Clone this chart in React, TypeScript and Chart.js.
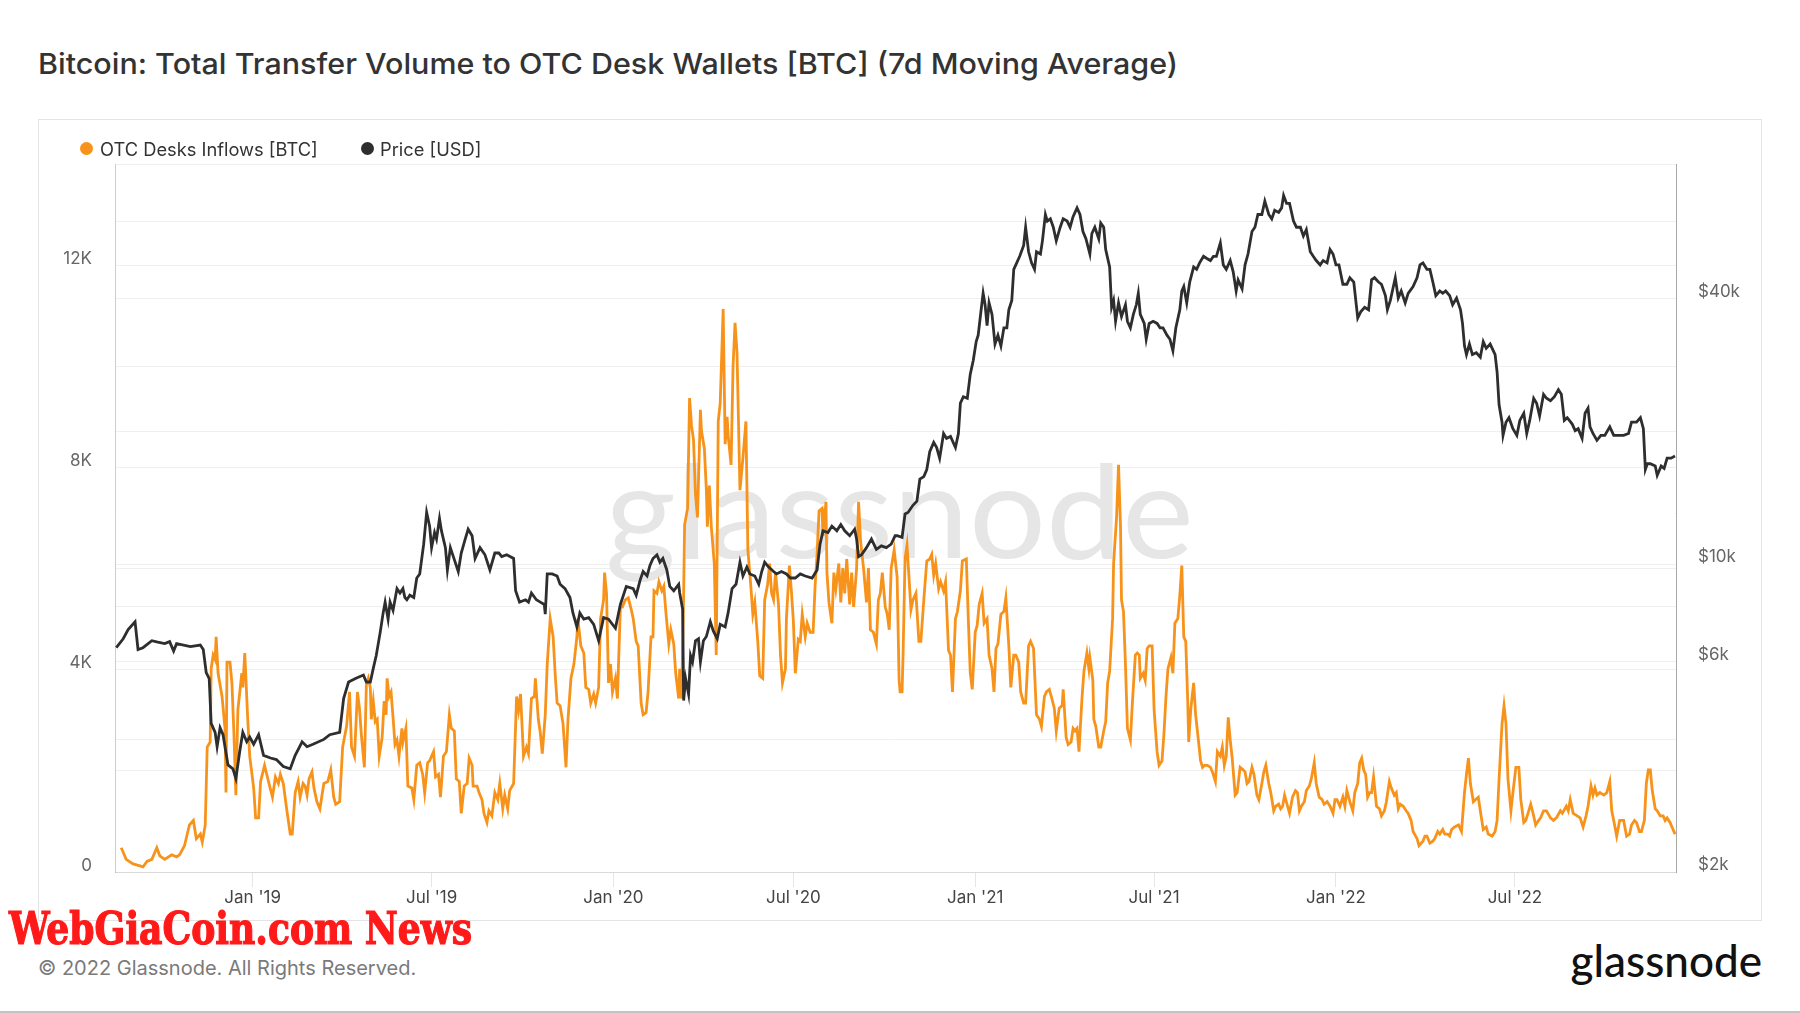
import React, { useEffect, useLayoutEffect, useRef } from 'react';
import { Chart, registerables } from 'chart.js';

Chart.register(...registerables);

const TITLE = 'Bitcoin: Total Transfer Volume to OTC Desk Wallets [BTC] (7d Moving Average)';
const SERIES_NAMES = ['OTC Desks Inflows [BTC]', 'Price [USD]'];
const COPYRIGHT = '\u00a9 2022 Glassnode. All Rights Reserved.';
const BRAND = 'glassnode';
const STAMP = 'WebGiaCoin.com News';

// x values are days since 2019-01-01
const xRange = [-139.3, 1440];
const xTickDays = [0, 181, 365, 547, 731, 912, 1096, 1277];
const xTickLabels = ["Jan '19", "Jul '19", "Jan '20", "Jul '20", "Jan '21", "Jul '21", "Jan '22", "Jul '22"];

const inflowRange = [0, 14000];
const inflowTicks = [0, 2000, 4000, 6000, 8000, 10000, 12000, 14000];
const inflowTickLabels = ['0', '', '4K', '', '8K', '', '12K', ''];

const priceRange = [2000, 81000];
const priceTicks = [2000, 4000, 6000, 8000, 10000, 20000, 40000, 60000];
const priceTickLabels = ['$2k', '', '$6k', '', '$10k', '', '$40k', ''];

// [day, BTC]
const otcInflows: number[][] = [
  [-133,480],[-131,390],[-128,250],[-121,160],[-114,120],[-111,100],[-107,210],[-102,250],[-97,480],[-94,320],[-89,250],[-82,340],[-77,300],[-74,340],[-69,520],[-64,930],[-60,1020],[-57,660],[-53,750],[-51,590],[-48,930],[-46,2470],[-43,2570],[-42,4020],[-40,4290],[-38,4200],[-37,4650],[-35,3930],[-31,3470],[-28,2840],[-27,1570],[-26,4150],[-23,4150],[-21,3740],[-19,2750],[-17,1520],[-15,3200],[-11,3930],[-10,3650],[-8,4330],[-5,3020],[-3,2290],[1,1660],[3,1070],[6,1070],[8,1790],[12,2110],[16,1790],[20,1480],[23,1880],[26,1750],[28,1930],[31,1750],[34,1300],[38,750],[40,750],[43,1570],[46,1790],[48,1480],[51,1750],[53,1700],[55,1520],[57,1840],[60,1980],[62,1660],[65,1390],[68,1250],[72,1750],[76,1790],[79,2020],[82,1480],[84,1340],[88,1390],[91,2470],[95,2880],[98,3560],[100,2470],[103,2290],[106,3560],[108,3240],[110,2700],[113,2070],[115,3700],[117,3830],
  [119,3650],[120,3020],[122,3380],[124,2970],[126,3020],[128,2290],[131,2660],[133,3380],[135,3110],[136,3830],[138,3470],[140,3560],[142,3060],[144,2520],[146,2610],[148,2290],[151,2840],[152,2570],[155,2840],[157,1700],[161,1660],[163,1430],[166,2110],[169,2160],[172,1930],[174,1570],[177,2160],[179,2200],[183,2380],[185,1880],[188,1930],[190,1480],[193,2290],[196,2380],[199,3110],[201,2840],[204,2790],[206,1840],[209,1790],[211,1160],[214,1700],[217,1750],[219,2250],[222,2110],[223,1700],[227,1700],[229,1570],[232,1430],[234,1160],[237,980],[239,1210],[242,1110],[245,1570],[248,1430],[250,1750],[253,1250],[255,1520],[258,1250],[260,1610],[264,1750],[267,3470],[269,3200],[271,3520],[274,2290],[277,2470],[279,2340],[282,3430],[285,3470],[286,3830],[289,3020],[291,2750],[293,2340],[296,3110],[298,4110],[301,5010],[304,4650],[306,3930],[308,3340],[311,3290],[314,2930],[317,2070],[319,3020],[322,3830],[325,4110],[328,4650],[329,5010],[332,4470],[335,4330],[337,3650],[340,3610],[342,3340],[345,3520],[347,3340],[350,3650],[352,5010],[355,5380],[356,5920],[358,5510],[360,3740],[362,4110],[364,3560],[367,3830],[369,3430],[372,5240],[374,5240],[377,5380],[380,5420],[383,5190],
  [385,5010],[388,4560],[390,4470],[393,3340],[395,3110],[398,3150],[400,3560],[403,4650],[405,4650],[406,5560],[409,5510],[411,5740],[414,5560],[416,5650],[418,5150],[421,4510],[423,4790],[426,4510],[428,3930],[431,3430],[432,4020],[434,3430],[436,5470],[437,6870],[440,7190],[442,9370],[444,8820],[446,8550],[448,7460],[450,7010],[453,9140],[454,8730],[457,8370],[459,7550],[460,6830],[462,7640],[464,6830],[467,6100],[469,4290],[471,8910],[473,9270],[476,11130],[478,8460],[480,9000],[481,8640],[484,8050],[486,10000],[488,10860],[490,10270],[493,7550],[496,8190],[499,8910],[501,6370],[504,5650],[506,5100],[508,5330],[511,4560],[513,3880],[516,3830],[518,5380],[521,5690],[523,6100],[525,5510],[527,5380],[529,5920],[532,5290],[534,4290],[536,3740],[539,4020],[540,5010],[543,6060],[545,5560],[547,4970],[549,3930],[552,4600],[554,4560],[556,5100],[559,4650],[561,4920],[564,4740],[567,4740],[569,5650],[571,6280],[573,7140],[576,7190],[577,6640],[580,7320],[581,5920],[583,5330],[586,4920],[588,5920],[590,5600],[593,6100],[595,5330],[597,6010],[599,5510],[601,6190],[604,5290],[606,5920],[608,5240],[611,6010],[613,7320],[615,6550],[618,6010],[621,5330],[623,6010],[625,4790],[628,4740],[631,4510],[633,5380],[635,5510],[637,5920],[640,5240],[642,5100],[644,4790],[646,6010],[649,6370],[652,5830],[654,3790],
  [655,3560],[657,3560],[658,4290],[660,6190],[662,6460],[664,5830],[666,5190],[668,5380],[671,5510],[674,4560],[676,4560],[679,5380],[682,6150],[685,6190],[687,6280],[689,5870],[691,6100],[694,5600],[696,5740],[699,5560],[701,5740],[704,4380],[706,4290],[708,3560],[711,5010],[713,5150],[716,5560],[718,6150],[722,6190],[724,5010],[726,3930],[728,3610],[731,4740],[733,4880],[735,5290],[738,5510],[740,4920],[743,5010],[745,4290],[748,4020],[750,3560],[752,4420],[754,4510],[757,5100],[760,5150],[762,5420],[765,4470],[767,3650],[770,4290],[772,4290],[775,4150],[777,3560],[780,3340],[782,3340],[785,4470],[787,4560],[790,4420],[793,3110],[796,3020],[798,2880],[801,3470],[803,3560],[806,3610],[808,3470],[811,3240],[813,2790],[816,3240],[819,3290],[820,3610],[823,2660],[825,2520],[828,2570],[830,2840],[832,2790],[834,2840],[836,2380],[839,3430],[841,3970],[844,4330],[846,4020],[847,4240],[850,3790],[851,3020],[853,2880],[856,2470],[858,2470],[861,2790],[863,2970],[865,3740],[867,3970],[870,5010],[871,6100],[874,7010],[876,8050],[878,6830],[879,5380],[881,5150],[883,4110],[885,2840],[888,2610],[890,3340],[893,4290],[895,4330],[897,4290],[898,3830],[901,3930],[903,3790],[905,4420],[907,4470],[910,4470],[912,3200],[915,2380],[917,2110],
  [920,2200],[922,2750],[924,3470],[926,4020],[929,4240],[931,3930],[933,4920],[936,5010],[938,5470],[940,6060],[942,4650],[944,4560],[946,3380],[947,2570],[949,3200],[952,3740],[954,3110],[957,2570],[959,2200],[961,2070],[963,2110],[966,2110],[969,2070],[971,1980],[974,1790],[976,2380],[979,2290],[981,2470],[983,2110],[985,2290],[987,3060],[989,2610],[991,2250],[994,1520],[996,1570],[999,2070],[1002,2020],[1004,1980],[1006,1750],[1008,1790],[1011,2070],[1013,1930],[1016,1520],[1018,1430],[1021,1750],[1023,1980],[1025,2110],[1028,1750],[1030,1570],[1033,1210],[1035,1300],[1038,1340],[1040,1250],[1042,1300],[1044,1520],[1047,1300],[1049,1160],[1052,1480],[1055,1610],[1057,1570],[1059,1210],[1061,1300],[1064,1390],[1066,1610],[1069,1700],[1071,1840],[1074,2160],[1076,1750],[1079,1480],[1082,1430],[1084,1340],[1087,1390],[1090,1300],[1093,1160],[1095,1430],[1097,1430],[1100,1300],[1103,1480],[1105,1300],[1107,1610],[1110,1390],[1113,1210],[1115,1570],[1118,1750],[1120,2160],[1122,2250],[1124,2020],[1126,1930],[1128,1480],[1130,1570],[1132,1570],[1134,1880],[1137,1300],[1140,1250],[1142,1110],[1145,1210],[1147,1390],[1150,1790],[1152,1660],[1155,1520],[1157,1570],[1159,1250],[1161,1340],[1164,1300],[1167,1210],[1169,1160],[1172,1020],[1174,800],[1178,660],[1180,520],
  [1184,610],[1186,710],[1188,710],[1191,570],[1194,610],[1196,660],[1199,800],[1201,750],[1204,840],[1206,750],[1209,750],[1211,710],[1213,840],[1216,890],[1220,930],[1223,800],[1226,1570],[1228,1930],[1230,2250],[1232,1750],[1235,1390],[1237,1430],[1240,1480],[1242,1210],[1245,840],[1248,890],[1250,750],[1254,710],[1257,800],[1259,1020],[1261,1840],[1264,2930],[1266,3290],[1268,2930],[1270,1840],[1273,1210],[1275,1570],[1278,2070],[1281,2070],[1283,1430],[1286,980],[1288,1020],[1291,1210],[1293,1340],[1296,1110],[1298,930],[1301,1020],[1303,1070],[1306,1210],[1309,1210],[1313,1070],[1316,1020],[1319,1070],[1323,1210],[1325,1160],[1329,1300],[1331,1210],[1333,1430],[1336,1160],[1340,1110],[1343,1070],[1346,890],[1349,1110],[1351,1300],[1354,1700],[1356,1520],[1358,1660],[1360,1520],[1363,1570],[1367,1520],[1370,1570],[1373,1790],[1375,1210],[1377,1020],[1380,710],[1383,1020],[1385,1020],[1387,1020],[1390,710],[1393,750],[1395,930],[1398,1020],[1400,980],[1403,800],[1405,800],[1408,1020],[1410,1750],[1412,2020],[1414,2020],[1416,1610],[1419,1250],[1421,1210],[1424,1110],[1427,1110],[1429,1020],[1431,1070],[1434,980],[1437,840],[1439,750]
];

// [day, USD]
const btcPrice: number[][] = [
  [-138,6460],[-131,6770],[-126,7100],[-119,7400],[-116,6400],[-111,6460],[-102,6700],[-96,6650],[-89,6600],[-84,6670],[-80,6350],[-77,6600],[-63,6500],[-53,6550],[-50,6400],[-47,5670],[-44,5500],[-42,4350],[-38,4150],[-36,3850],[-33,4250],[-30,4100],[-25,3500],[-20,3430],[-17,3260],[-13,3770],[-10,4150],[-6,3950],[-3,4050],[1,3900],[6,4100],[11,3680],[18,3630],[24,3600],[31,3470],[38,3430],[43,3680],[50,3950],[55,3850],[61,3900],[72,4000],[78,4100],[88,4150],[92,4950],[97,5400],[104,5500],[112,5600],[115,5400],
  [119,5400],[122,5800],[125,6200],[129,7000],[132,7750],[134,8200],[137,7500],[139,8200],[142,7850],[146,8800],[149,8600],[152,8800],[154,8400],[156,8300],[159,8500],[163,8400],[166,9300],[169,9500],[173,11100],[176,13100],[179,12200],[181,10900],[184,11800],[186,11400],[189,12700],[191,11900],[195,10900],[197,9700],[200,10900],[203,10400],[208,9620],[211,10600],[215,11400],[218,12000],[222,11600],[225,10300],[230,10900],[235,10500],[240,9700],[245,10600],[249,10600],[252,10400],[257,10500],[264,10300],[266,8700],[270,8200],[276,8300],[279,8200],[282,8600],[287,8300],[291,8200],[295,8100],[296,7700],[298,9500],[303,9500],[308,9400],[311,9000],[316,8800],[321,8400],[324,7750],[328,7200],[331,7750],[335,7500],[340,7560],[345,7300],[350,6700],[355,7560],[360,7500],[367,7150],[372,8100],[378,8900],[385,8800],
  [388,8500],[392,9200],[395,9620],[399,9400],[402,9950],[405,10300],[409,10500],[412,10100],[415,10300],[419,9700],[422,8900],[426,8700],[431,9000],[432,8600],[435,7900],[436,4900],[438,5500],[441,5070],[443,6200],[445,6000],[448,6700],[451,6770],[453,6000],[456,6700],[459,6850],[463,7400],[466,7050],[470,6770],[473,7300],[478,7200],[481,7750],[485,8800],[489,9000],[493,10100],[496,9400],[500,9850],[503,9500],[508,9400],[512,9000],[515,9620],[518,10100],[522,9850],[527,9620],[530,9500],[535,9620],[540,9500],[544,9300],[549,9300],[554,9500],[559,9400],[566,9300],[571,9700],[574,11100],[577,11900],[582,11800],[586,12200],[591,11900],[595,12300],[599,11900],[604,11600],[609,12000],[611,11400],[613,10400],[616,10500],[621,10900],[626,11400],[631,10800],[636,11000],[641,10900],[646,11100],[650,11600],
  [652,11600],[657,11500],[660,13000],[663,13100],[668,13600],[672,13900],[675,15600],[679,15800],[682,16400],[685,18000],[689,18900],[692,18400],[695,17400],[699,19800],[702,19300],[706,19500],[711,18400],[714,19800],[716,23200],[719,24000],[723,23800],[726,27000],[729,29000],[732,32000],[734,33100],[737,37800],[739,41200],[741,38800],[743,34800],[745,39200],[748,36900],[751,31600],[754,33100],[757,31300],[760,34400],[763,34400],[765,37800],[768,39700],[770,46700],[773,48300],[776,50000],[780,52900],[782,58200],[785,51200],[788,48300],[791,46700],[793,51200],[797,50600],[799,54200],[802,62200],[804,60100],[807,60800],[810,58200],[813,54200],[817,58200],[820,60800],[824,60100],[827,58200],[830,61500],[834,64400],[837,62200],[840,56900],[843,54800],[847,50600],[849,56300],[852,58200],[856,54800],[858,59500],[861,58200],[863,51800],[867,47300],[869,38300],[871,39700],[873,35600],[876,39200],[879,36500],[883,38800],[885,35600],[888,34400],[891,36900],[894,38800],[896,41200],[898,36900],[902,35200],[904,32400],[907,35200],[911,35600],[915,35200],[918,34400],
  [921,34400],[925,33100],[928,32400],[931,30500],[934,34400],[938,37800],[940,41700],[942,42700],[945,39200],[948,43700],[952,47300],[955,46700],[958,48300],[962,50000],[965,49500],[969,48900],[972,50000],[975,50000],[979,53600],[982,47800],[985,46700],[989,48900],[992,46100],[995,41700],[997,44200],[1001,42200],[1004,47800],[1007,50600],[1011,56900],[1014,58200],[1017,62200],[1021,62200],[1024,66700],[1028,62200],[1031,60800],[1034,63600],[1038,62900],[1041,64400],[1043,68700],[1046,65900],[1049,65900],[1053,60100],[1056,58200],[1060,58200],[1063,55600],[1066,57500],[1070,51200],[1073,50000],[1076,48900],[1080,47800],[1083,48900],[1087,48300],[1090,51800],[1093,50600],[1096,47800],[1099,47800],[1103,43200],[1107,43200],[1110,44700],[1114,43700],[1118,36200],[1121,37400],[1125,38300],[1129,37800],[1132,44200],[1135,44700],[1139,43700],[1142,43200],[1146,40700],[1148,37800],[1151,39700],[1156,44700],[1159,40200],[1162,41700],[1166,39200],[1169,41200],[1174,42700],[1178,44700],[1181,47800],
  [1184,48300],[1188,46700],[1191,46700],[1194,43700],[1197,40700],[1201,41700],[1204,41200],[1207,41700],[1211,40700],[1214,38800],[1218,40200],[1222,37800],[1224,35200],[1226,31300],[1228,29900],[1231,31600],[1234,29900],[1238,30200],[1242,29500],[1245,32000],[1248,30900],[1252,31600],[1257,29900],[1259,27300],[1261,23000],[1264,21000],[1265,19600],[1268,21000],[1271,21500],[1275,20300],[1279,19600],[1282,21200],[1286,22000],[1289,19800],[1292,21200],[1296,23800],[1299,23200],[1302,21700],[1306,24300],[1309,23800],[1313,23500],[1317,24000],[1321,24900],[1324,24300],[1327,21200],[1330,21500],[1335,20800],[1338,20100],[1341,20300],[1345,19300],[1348,22000],[1351,22600],[1353,20500],[1356,19800],[1360,19100],[1364,19600],[1368,19600],[1373,20500],[1377,19600],[1382,19600],[1387,19600],[1392,19800],[1395,21000],[1400,21000],[1404,21500],[1407,20300],[1409,16400],[1411,16900],[1414,16900],[1419,16700],[1421,15900],[1425,16700],[1428,16500],[1431,17400],[1435,17400],[1439,17600]
];

const ORANGE = '#f7931a';
const DARK = '#2e2e2e';
const FONT = 'Inter, "Noto Sans", sans-serif';

const watermarkPlugin = {
  id: 'glassnodeWatermark',
  beforeDatasetsDraw(chart: any) {
    const { ctx, chartArea: a } = chart;
    ctx.save();
    ctx.font = '400 130px Lato, "Noto Sans", sans-serif';
    ctx.fillStyle = '#e6e6e6';
    ctx.textAlign = 'center';
    ctx.textBaseline = 'alphabetic';
    const w = ctx.measureText(BRAND).width;
    const targetW = (a.right - a.left) * 0.377;
    ctx.translate((a.left + a.right) / 2 + 4, a.top + (a.bottom - a.top) * 0.556);
    ctx.scale(targetW / w, 1);
    ctx.fillText(BRAND, 0, 0);
    ctx.restore();
  },
};

export default function App() {
  const canvasRef = useRef<HTMLCanvasElement>(null);
  const stampRef = useRef<HTMLSpanElement>(null);
  const titleRef = useRef<HTMLDivElement>(null);

  useLayoutEffect(() => {
    const fit = (el: HTMLElement | null, target: number) => {
      if (!el) return;
      const w = el.offsetWidth;
      if (w > 0) el.style.transform = `scaleX(${target / w})`;
    };
    fit(stampRef.current, 463);
    fit(titleRef.current, 1140);
  }, []);

  useEffect(() => {
    const canvas = canvasRef.current;
    if (!canvas) return;
    const chart = new Chart(canvas, {
      type: 'line',
      data: {
        datasets: [
          {
            label: SERIES_NAMES[1],
            data: btcPrice.map(([x, y]) => ({ x, y })),
            yAxisID: 'yPrice',
            borderColor: DARK,
            backgroundColor: DARK,
            borderWidth: 2.8,
            pointRadius: 0,
            tension: 0,
            order: 0,
          },
          {
            label: SERIES_NAMES[0],
            data: otcInflows.map(([x, y]) => ({ x, y })),
            yAxisID: 'yOtc',
            borderColor: ORANGE,
            backgroundColor: ORANGE,
            borderWidth: 2.8,
            pointRadius: 0,
            tension: 0,
            order: 1,
          },
        ],
      },
      options: {
        responsive: false,
        animation: false,
        events: [],
        layout: { padding: { top: 45, left: 0, right: 0, bottom: 0 } },
        plugins: { legend: { display: false }, tooltip: { enabled: false } },
        scales: {
          x: {
            type: 'linear',
            min: xRange[0],
            max: xRange[1],
            afterBuildTicks: (s: any) => {
              s.ticks = xTickDays.map((v) => ({ value: v }));
            },
            afterFit: (s: any) => {
              s.height = 49;
            },
            ticks: {
              callback: (_v: any, i: number) => xTickLabels[i] ?? '',
              font: { family: FONT, size: 17 },
              color: '#444',
              padding: 1,
              maxRotation: 0,
              autoSkip: false,
            },
            grid: { drawOnChartArea: false, drawTicks: true, tickLength: 15, color: '#e6e6e6' },
            border: { display: true, color: '#d9d9d9' },
          },
          yOtc: {
            type: 'linear',
            position: 'left',
            min: inflowRange[0],
            max: inflowRange[1],
            afterBuildTicks: (s: any) => {
              s.ticks = inflowTicks.map((v) => ({ value: v }));
            },
            afterFit: (s: any) => {
              s.width = 77;
            },
            ticks: {
              callback: (_v: any, i: number) => inflowTickLabels[i] ?? '',
              font: { family: FONT, size: 17 },
              color: '#666',
              padding: 23,
              labelOffset: -6.5,
              autoSkip: false,
            },
            grid: { color: '#efefef', drawTicks: false },
            border: { display: true, color: 'rgba(247,147,26,0.55)' },
          },
          yPrice: {
            type: 'logarithmic',
            position: 'right',
            min: priceRange[0],
            max: priceRange[1],
            afterBuildTicks: (s: any) => {
              s.ticks = priceTicks.map((v) => ({ value: v }));
            },
            afterFit: (s: any) => {
              s.width = 86;
            },
            ticks: {
              callback: (_v: any, i: number) => priceTickLabels[i] ?? '',
              font: { family: FONT, size: 17 },
              color: '#666',
              padding: 22,
              labelOffset: -7,
              autoSkip: false,
            },
            grid: { color: '#efefef', drawTicks: false },
            border: { display: true, color: '#a8a8a8' },
          },
        },
      } as any,
      plugins: [watermarkPlugin],
    });
    return () => chart.destroy();
  }, []);

  const abs = (o: React.CSSProperties): React.CSSProperties => ({ position: 'absolute', margin: 0, ...o });

  return (
    <div style={abs({ left: 0, top: 0, width: 1800, height: 1013, background: '#fff', overflow: 'hidden', fontFamily: FONT })}>
      <div
        ref={titleRef}
        style={abs({ left: 38, top: 49, fontSize: 29, lineHeight: '29px', fontWeight: 500, color: '#333', whiteSpace: 'nowrap', transformOrigin: '0 0', display: 'inline-block' })}
      >
        {TITLE}
      </div>
      <div style={abs({ left: 38, top: 119, width: 1724, height: 802, boxSizing: 'border-box', border: '1px solid #e4e4e4' })} />
      <canvas ref={canvasRef} width={1724} height={802} style={abs({ left: 38, top: 119, width: 1724, height: 802 })} />
      <div style={abs({ left: 79.5, top: 142, width: 13, height: 13, borderRadius: '50%', background: ORANGE })} />
      <div style={abs({ left: 100, top: 139.5, fontSize: 18.3, lineHeight: '18.3px', color: '#333', whiteSpace: 'nowrap' })}>
        {SERIES_NAMES[0]}
      </div>
      <div style={abs({ left: 360.5, top: 142, width: 13, height: 13, borderRadius: '50%', background: DARK })} />
      <div style={abs({ left: 380, top: 139.5, fontSize: 18.3, lineHeight: '18.3px', color: '#333', whiteSpace: 'nowrap' })}>
        {SERIES_NAMES[1]}
      </div>
      <div style={abs({ left: 38, top: 958, fontSize: 20, lineHeight: '20px', color: '#7a7a7a', whiteSpace: 'nowrap' })}>
        {COPYRIGHT}
      </div>
      <div style={abs({ right: 38, top: 938, fontSize: 44, lineHeight: '44px', color: '#111', fontFamily: 'Lato, "Noto Sans", sans-serif', fontWeight: 500, whiteSpace: 'nowrap' })}>
        {BRAND}
      </div>
      <span
        ref={stampRef}
        style={abs({ left: 9, top: 906, fontSize: 45, lineHeight: '45px', color: '#ff1a1a', fontFamily: '"DejaVu Serif Condensed", "DejaVu Serif", serif', fontWeight: 700, fontStretch: 'condensed', whiteSpace: 'nowrap', transformOrigin: '0 0', display: 'inline-block', WebkitTextStroke: '1.2px #ff1a1a' } as React.CSSProperties)}
      >
        {STAMP}
      </span>
      <div style={abs({ left: 0, top: 1011, width: 1800, height: 2, background: '#c4c4c4' })} />
    </div>
  );
}
